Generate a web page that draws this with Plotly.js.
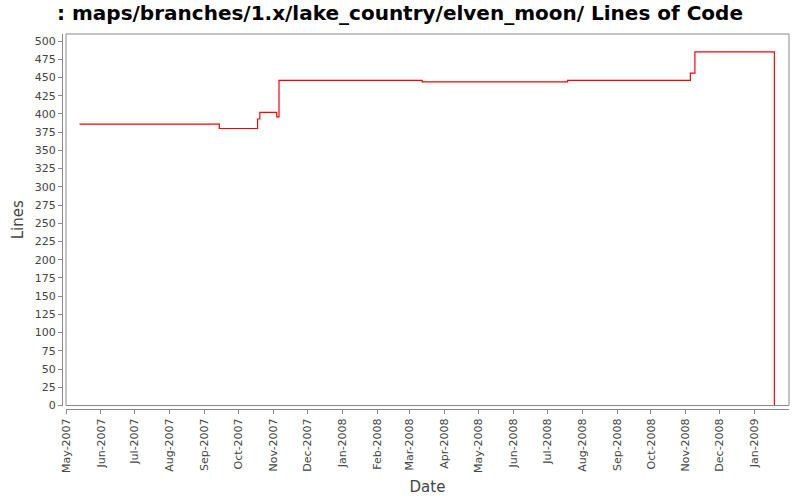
<!DOCTYPE html>
<html>
<head>
<meta charset="utf-8">
<script src="https://cdn.plot.ly/plotly-3.0.1.min.js"></script>
<style>html,body{margin:0;padding:0;background:#fff}#chart{width:800px;height:500px}</style>
</head>
<body>
<div id="chart"></div>
<script>
const dates = ["2007-05-13","2007-09-14","2007-10-18","2007-10-20","2007-11-04","2007-11-06","2008-03-12","2008-07-19","2008-11-05","2008-11-09","2009-01-18 12:00"];
const lines = [386,380,393,402,396,446,444,446,456,485,0];
const yTicks = [0,25,50,75,100,125,150,175,200,225,250,275,300,325,350,375,400,425,450,475,500];

const axisFont = {family:"DejaVu Sans, sans-serif", size:11, color:"#444"};
const trace = {
  x: dates, y: lines, type:"scatter", mode:"lines",
  line:{color:"#ff0000", width:1.2, shape:"hv"}, hoverinfo:"skip"
};
const xd0 = 4/727, yd0 = 3.5/375.5;
const layout = {
  width:800, height:500,
  paper_bgcolor:"#fff", plot_bgcolor:"#fff",
  margin:{l:62, r:11, t:34, b:91},
  showlegend:false,
  title:{text:": maps/branches/1.x/lake_country/elven_moon/ Lines of Code",
    font:{family:"DejaVu Sans, sans-serif", size:20, color:"#000", weight:"bold"},
    x:0.5, xanchor:"center", y:0.975, yanchor:"middle"},
  xaxis:{type:"date", domain:[xd0,1], anchor:"free", position:0,
    range:["2007-05-01","2009-01-31 12:00"],
    tick0:"2007-05-01", dtick:"M1", tickformat:"%b-%Y", tickangle:-90,
    ticks:"outside", ticklen:4, tickcolor:"#888", tickfont:axisFont,
    showline:true, linecolor:"#888", linewidth:1, showgrid:false, zeroline:false,
    title:{text:"Date", font:{family:"DejaVu Sans, sans-serif", size:15, color:"#444"}, standoff:9}},
  yaxis:{domain:[yd0,1], anchor:"free", position:0, range:[0,509.6],
    tickvals:yTicks, ticktext:yTicks.map(String),
    ticks:"outside", ticklen:4, tickcolor:"#888", tickfont:axisFont,
    showline:true, linecolor:"#888", linewidth:1, showgrid:false, zeroline:false,
    title:{text:"Lines", font:{family:"DejaVu Sans, sans-serif", size:15, color:"#444"}, standoff:6}},
  shapes:[{type:"rect", xref:"paper", yref:"paper", x0:xd0, x1:1, y0:yd0, y1:1,
    line:{color:"#888", width:1}, fillcolor:"rgba(0,0,0,0)", layer:"above"}]
};
Plotly.newPlot("chart", [trace], layout, {staticPlot:true, displayModeBar:false});
</script>
</body>
</html>
